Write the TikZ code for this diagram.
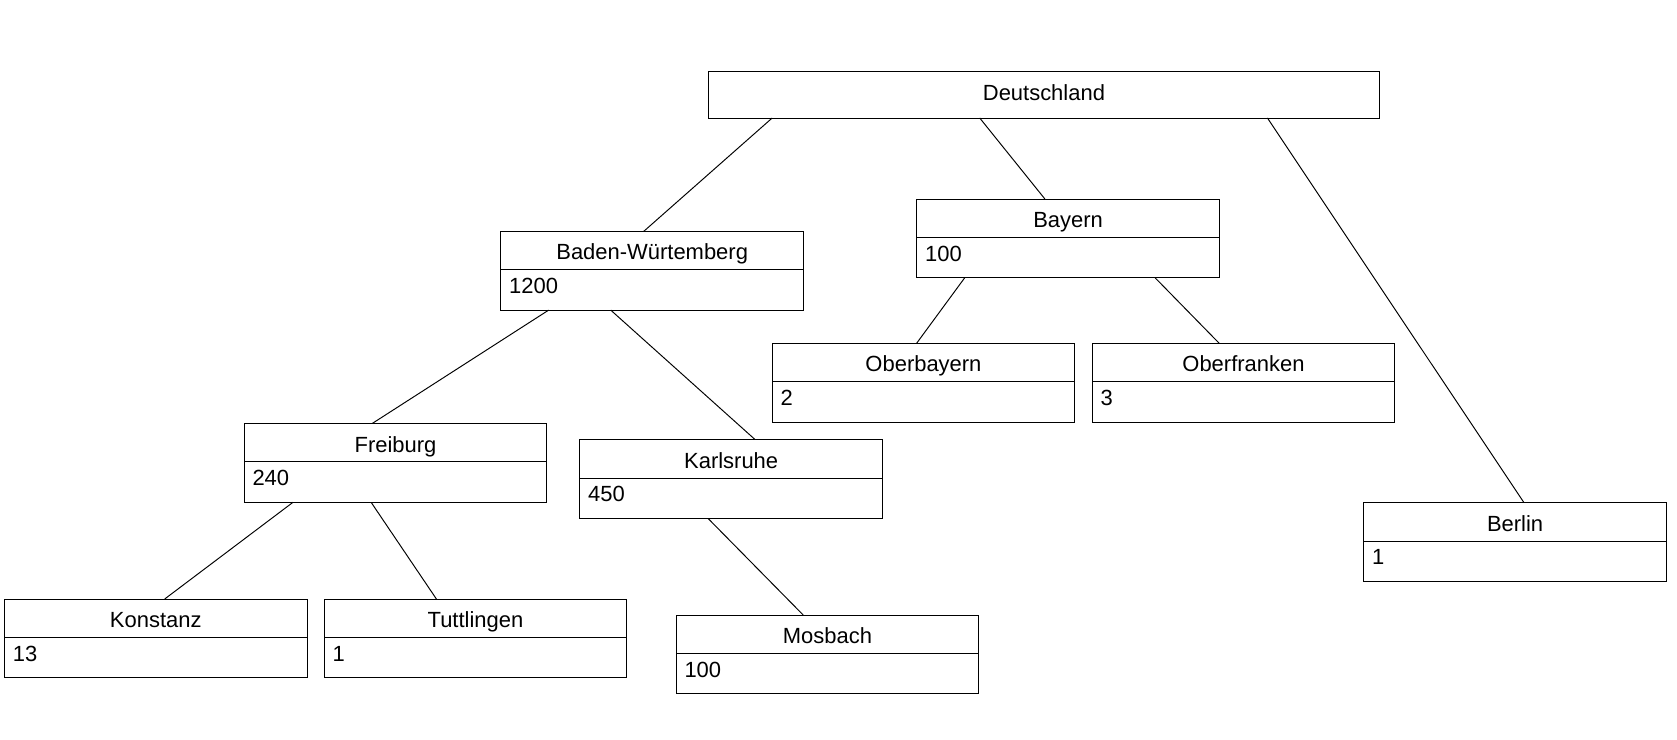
\documentclass[tikz,border=0pt]{standalone}
\usepackage{fontspec}
\setmainfont{Liberation Sans}
\usepackage{tikz}
\usetikzlibrary{calc}

\tikzset{
    kopf/.style={draw, rectangle, anchor=north west, outer sep=0pt,
        minimum width=6.06cm, minimum height=0.768cm,
        text height=0.48cm, text depth=0.1cm, inner sep=0pt},
    wert/.style={draw, rectangle, anchor=north west, outer sep=0pt,
        minimum width=6.06cm, minimum height=0.808cm,
        text width=5.72cm, inner xsep=0.17cm, inner ysep=0pt, align=left,
        text height=0.3cm, text depth=0.16cm},
    kante/.style={line width=0.55pt}
}

\begin{document}
\begin{tikzpicture}[x=0.02cm, y=-0.02cm, line width=0.55pt,
    font=\fontsize{12.5}{15}\selectfont]
    \useasboundingbox (0,0) rectangle (1677,740);

    % Wurzel
    \node[kopf, minimum width=13.44cm, minimum height=0.94cm, text depth=0.24cm] (deu) at (708,71) {Deutschland};

    % Bundeslaender
    \node[kopf] (bw) at (500.7,231.3) {Baden-Würtemberg};
    \node[wert] (bw-w) at (bw.south west) {1200};
    \node[kopf] (by) at (916.6,199) {Bayern};
    \node[wert] (by-w) at (by.south west) {100};
    \node[kopf] (be) at (1363.6,502.7) {Berlin};
    \node[wert] (be-w) at (be.south west) {1};

    % Bezirke
    \node[kopf] (obb) at (772,343.3) {Oberbayern};
    \node[wert] (obb-w) at (obb.south west) {2};
    \node[kopf] (ofr) at (1092,343.3) {Oberfranken};
    \node[wert] (ofr-w) at (ofr.south west) {3};
    \node[kopf] (fr) at (244,423.5) {Freiburg};
    \node[wert] (fr-w) at (fr.south west) {240};
    \node[kopf] (ka) at (579.7,439.6) {Karlsruhe};
    \node[wert] (ka-w) at (ka.south west) {450};

    % Kreise
    \node[kopf] (kn) at (4.3,599) {Konstanz};
    \node[wert] (kn-w) at (kn.south west) {13};
    \node[kopf] (tut) at (324,599) {Tuttlingen};
    \node[wert] (tut-w) at (tut.south west) {1};
    \node[kopf] (mos) at (676,615) {Mosbach};
    \node[wert] (mos-w) at (mos.south west) {100};

    % Kanten
    \draw[kante] ($(deu.south west)+(64.2,0)$) -- ($(bw.north west)+(143.1,0)$);
    \draw[kante] ($(deu.south west)+(271.7,0)$) -- ($(by.north west)+(128.3,0)$);
    \draw[kante] ($(deu.south west)+(559.4,0)$) -- ($(be.north west)+(160.4,0)$);
    \draw[kante] ($(bw-w.south west)+(48,0)$) -- ($(fr.north west)+(128.2,0)$);
    \draw[kante] ($(bw-w.south west)+(110,0)$) -- ($(ka.north west)+(175.4,0)$);
    \draw[kante] ($(by-w.south west)+(48.1,0)$) -- ($(obb.north west)+(144.6,0)$);
    \draw[kante] ($(by-w.south west)+(238.5,0)$) -- ($(ofr.north west)+(127.2,0)$);
    \draw[kante] ($(fr-w.south west)+(49,0)$) -- ($(kn.north west)+(160.4,0)$);
    \draw[kante] ($(fr-w.south west)+(127.1,0)$) -- ($(tut.north west)+(112.4,0)$);
    \draw[kante] ($(ka-w.south west)+(128.3,0)$) -- ($(mos.north west)+(127.2,0)$);
\end{tikzpicture}
\end{document}
